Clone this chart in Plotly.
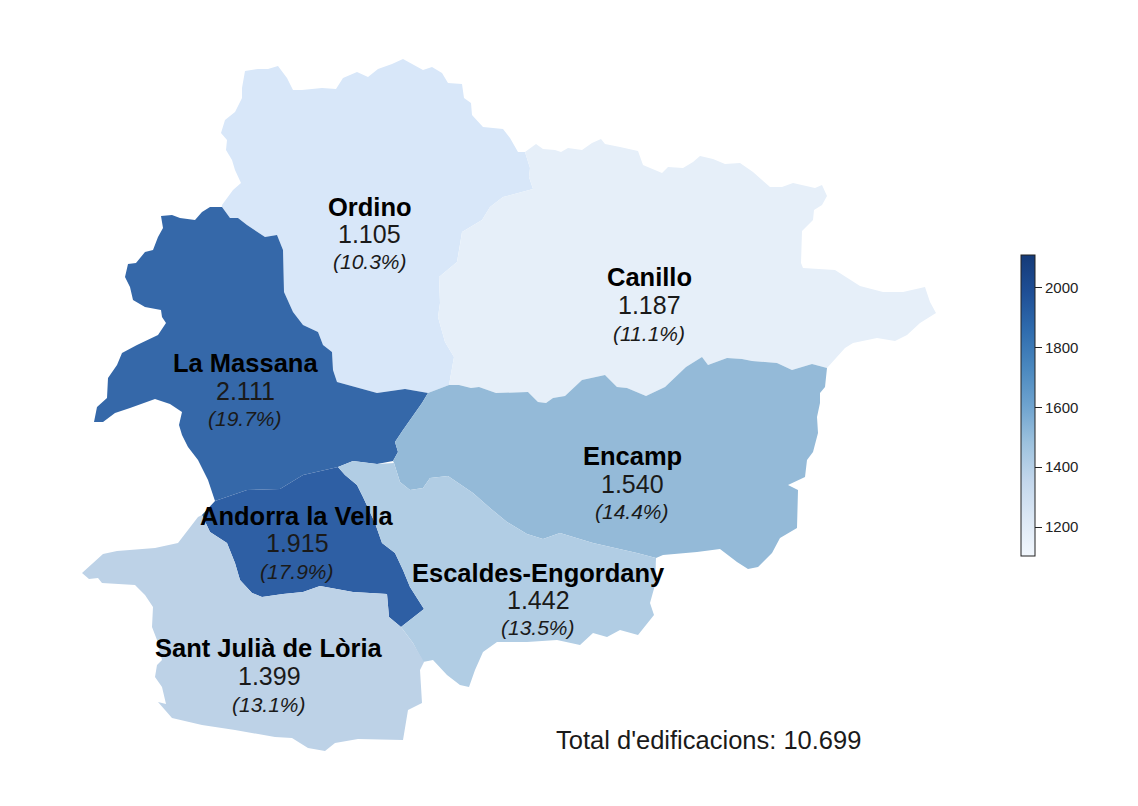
import plotly.graph_objects as go

parishes = ['Ordino', 'Canillo', 'La Massana', 'Encamp', 'Andorra la Vella', 'Escaldes-Engordany', 'Sant Julià de Lòria']
values = [1105, 1187, 2111, 1540, 1915, 1442, 1399]
value_labels = ['1.105', '1.187', '2.111', '1.540', '1.915', '1.442', '1.399']
share_labels = ['(10.3%)', '(11.1%)', '(19.7%)', '(14.4%)', '(17.9%)', '(13.5%)', '(13.1%)']
total_label = "Total d'edificacions: 10.699"
cbar_ticks = [1200, 1400, 1600, 1800, 2000]

# borders shared by two parishes in image pixels
ordino_canillo = [(525,152),(530,168),(529,177),(533,189),(503,197),(490,207),(482,220),(462,232),(460,245),(457,262),(439,277),
                  (440,303),(438,317),(445,342),(454,357),(449,385)]
ordino_massana = [(428,393),(405,389),(377,393),(337,382),(333,370),(332,352),(323,345),(318,332),(303,325),(293,312),
                  (284,292),(283,250),(277,235),(265,237),(247,225),(238,218),(230,218),(222,207)]
massana_vella = [(215,501),(247,490),(280,489),(303,475),(338,467)]
massana_encamp = [(393,461),(398,452),(395,442),(403,430),(422,403),(428,393)]
encamp_canillo = [(428,393),(449,385),(459,385),(471,388),(479,387),(496,393),(528,392),(538,402),(546,403),(553,398),(565,396),
                  (582,380),(605,375),(617,387),(627,388),(646,396),(665,387),(686,367),(702,357),(708,365),(727,358),(742,359),
                  (752,361),(777,363),(792,370),(812,364),(827,368)]
encamp_escaldes = [(656,558),(637,553),(593,543),(560,533),(543,539),(527,534),(507,522),(490,508),(473,493),(448,476),(430,478),
                   (423,488),(410,490),(400,482),(394,463)]
vella_escaldes = [(338,467),(345,475),(357,485),(363,497),(375,523),(382,543),(395,553),(403,570),(410,587),(424,609),(401,627)]
vella_julia = [(401,627),(389,617),(387,594),(353,592),(320,586),(303,592),(283,594),(262,597),(252,593),(240,580),(235,563),
               (227,543),(210,532),(202,515)]

# outer coast of each parish
ordino_coast = [(222,205),(233,190),(241,183),(235,170),(232,160),(226,150),(227,140),(221,133),(225,120),(235,112),(242,98),
                (242,88),(245,71),(258,69),(268,69),(278,66),(287,78),(293,90),(302,90),(322,88),(336,89),(343,78),(357,72),
                (368,77),(378,69),(392,64),(403,59),(415,66),(423,70),(432,67),(442,73),(448,83),(462,84),(464,98),(471,103),
                (472,115),(483,127),(503,129),(510,138),(518,152)]
canillo_coast = [(525,152),(536,144),(543,149),(555,150),(561,152),(568,148),(582,150),(592,143),(601,139),(605,144),(620,147),
                 (638,151),(643,165),(662,173),(668,167),(683,168),(693,162),(700,156),(713,159),(725,164),(740,163),(753,172),
                 (770,187),(782,187),(793,183),(815,188),(822,185),(827,196),(822,205),(814,210),(813,220),(802,231),(801,263),
                 (803,268),(835,270),(860,286),(883,292),(903,292),(925,287),(930,302),(936,313),(920,323),(907,335),(895,341),
                 (877,338),(853,343),(845,348),(827,368)]
massana_coast = [(222,207),(210,207),(202,212),(195,220),(180,218),(172,215),(161,216),(163,228),(158,237),(153,250),(145,252),
                 (136,263),(128,264),(125,277),(130,287),(133,300),(145,307),(161,310),(162,317),(166,323),(158,335),(137,345),
                 (122,353),(117,365),(108,378),(107,392),(107,398),(97,407),(94,422),(103,422),(115,413),(130,408),(155,399),
                 (170,404),(182,412),(179,425),(182,435),(188,447),(198,460),(208,480),(215,501)]
massana_south = [(338,467),(353,461),(377,464)]
encamp_coast = [(827,368),(825,387),(820,393),(820,403),(817,417),(818,433),(813,452),(807,460),(805,477),(788,485),(798,490),
                (797,528),(780,538),(772,553),(758,567),(748,569),(737,562),(720,549),(697,552),(663,555),(656,558)]
vella_west = [(202,515),(215,501)]
escaldes_coast = [(401,627),(413,643),(423,662),(433,660),(447,675),(460,685),(469,687),(475,670),(483,652),(497,642),(527,642),
                  (557,640),(580,645),(593,633),(607,637),(620,630),(638,635),(654,615),(650,603),(655,585),(656,558)]
escaldes_north = [(394,463),(377,464),(353,461),(338,467)]
julia_coast = [(202,515),(198,517),(178,543),(155,548),(117,551),(103,554),(82,573),(89,579),(98,578),(102,583),(135,585),
               (145,595),(153,607),(152,627),(157,640),(162,660),(157,665),(155,677),(162,687),(166,704),(158,702),(172,718),
               (202,725),(235,730),(275,737),(292,738),(308,748),(325,751),(335,743),(358,739),(403,740),(408,710),(422,703),
               (420,670),(424,662),(413,643),(401,627)]

ordino = ordino_coast + ordino_canillo + ordino_massana
canillo = canillo_coast + encamp_canillo[::-1] + ordino_canillo[::-1]
la_massana = massana_coast + massana_vella + massana_south + massana_encamp + ordino_massana
encamp = encamp_canillo + encamp_coast + encamp_escaldes + massana_encamp
andorra_la_vella = vella_west + massana_vella + vella_escaldes + vella_julia
escaldes = escaldes_coast + encamp_escaldes + escaldes_north + vella_escaldes
sant_julia = julia_coast + vella_julia
outlines = [ordino, canillo, la_massana, encamp, andorra_la_vella, escaldes, sant_julia]

fills = ['#d8e7f9', '#e6eff9', '#3568a9', '#94bad8', '#2e5fa4', '#b1cde4', '#bdd2e7']
label_x = [369.5, 649, 245, 632, 297, 538, 269]
name_y = [207, 277, 363, 456, 516, 573, 648]
value_y = [234, 305, 391, 484, 543, 600, 676]
share_y = [261, 333, 418, 511, 571, 627, 704]

# the page keeps 8px of body margin round the plot
page_margin = 8

fig = go.Figure()

for name, pts, col in zip(parishes, outlines, fills):
    fig.add_trace(go.Scatter(x=[p[0] for p in pts] + [pts[0][0]], y=[p[1] for p in pts] + [pts[0][1]],
                             mode='lines', fill='toself', fillcolor=col, line={'width': 0},
                             name=name, hoverinfo='name', showlegend=False))

# invisible points, only here to carry the colorbar
fig.add_trace(go.Scatter(x=label_x, y=value_y, mode='markers', showlegend=False, hoverinfo='skip',
                         marker={'size': 1, 'opacity': 0, 'color': values, 'cmin': 1105, 'cmax': 2111,
                                 'colorscale': [[0, '#f2f7fd'], [0.125, '#dce8f5'], [0.25, '#c3d7ec'], [0.375, '#9dc2de'],
                                                [0.5, '#6ea3cf'], [0.625, '#4a88bf'], [0.75, '#2f6cae'], [0.875, '#1f4f96'],
                                                [1, '#143a78']],
                                 'colorbar': {'x': (1021 - page_margin) / 1138, 'xanchor': 'left',
                                              'y': 1 - (405 - page_margin) / 806, 'yanchor': 'middle',
                                              'len': 301 / 806, 'lenmode': 'fraction', 'thickness': 14,
                                              'thicknessmode': 'pixels', 'outlinecolor': '#222222', 'outlinewidth': 1,
                                              'tickvals': cbar_ticks, 'ticks': 'outside', 'ticklen': 7, 'tickwidth': 1,
                                              'tickcolor': '#222222', 'xpad': 0, 'ypad': 0,
                                              'tickfont': {'size': 15, 'color': '#222222', 'family': 'Liberation Sans'}}}))

for i in range(len(parishes)):
    fig.add_annotation(x=label_x[i], y=name_y[i], text='<b>' + parishes[i] + '</b>', showarrow=False,
                       font={'size': 25.5, 'color': 'black'})
    fig.add_annotation(x=label_x[i], y=value_y[i], text=value_labels[i], showarrow=False,
                       font={'size': 25, 'color': '#1a1a1a'})
    fig.add_annotation(x=label_x[i], y=share_y[i], text='<i>' + share_labels[i] + '</i>', showarrow=False,
                       font={'size': 21, 'color': '#1a1a1a'})

fig.add_annotation(x=708, y=740, text=total_label, showarrow=False, font={'size': 25.5, 'color': '#1a1a1a'})

fig.update_layout(width=1138, height=806, margin={'l': 0, 'r': 0, 't': 0, 'b': 0},
                  paper_bgcolor='white', plot_bgcolor='white',
                  font={'family': 'Liberation Sans'},
                  xaxis={'range': [page_margin, 1138 + page_margin], 'visible': False, 'fixedrange': True},
                  yaxis={'range': [806 + page_margin, page_margin], 'visible': False, 'fixedrange': True})

fig.write_html("out.html")
